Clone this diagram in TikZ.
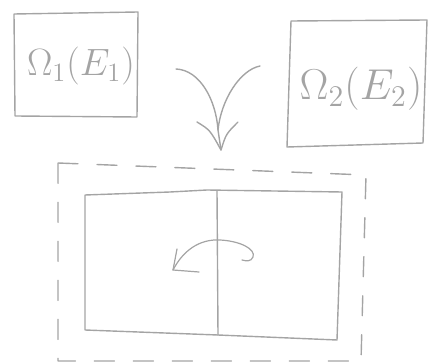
\documentclass[tikz,border=0pt]{standalone}
\begin{document}
\begin{tikzpicture}[x=1pt,y=-1pt,line cap=round,line join=round]
\definecolor{pen}{HTML}{A4A4A4}
\tikzset{
  sketch/.style={draw=pen,line width=1.4pt},
  dashedbox/.style={draw=pen,line width=1.4pt,dash pattern=on 20pt off 19pt},
  bigtext/.style={text=pen,inner sep=0pt,font=\LARGE},
}
\useasboundingbox (0,0) rectangle (436,363);
% box 1
\draw[sketch] (14,14) -- (138,12) -- (137,117) -- (15,116) -- cycle;
\node[bigtext,scale=2.2] (t1) at (81,66) {$\Omega_1(E_1)$};
% box 2
\draw[sketch] (291,21) -- (427,20) -- (423,143) -- (287,147) -- cycle;
\node[bigtext,scale=2.5] (t2) at (361,89) {$\Omega_2(E_2)$};
% merging arrow
\coordinate (a1) at (176,69);
\coordinate (a2) at (260,66);
\coordinate (am) at (218,130);
\coordinate (tip) at (221,150);
\draw[sketch] (a1) .. controls (200,70) and (216,100) .. (am);
\draw[sketch] (a2) .. controls (240,70) and (221,100) .. (am) -- (tip);
\draw[sketch] (197,122) .. controls (210,130) .. (tip) .. controls (226,134) .. (238,122);
% dashed combined box
\draw[dashedbox] (58,163) -- (366,175) -- (361,361) -- (58,361) -- cycle;
% inner rectangle
\draw[sketch] (85,195) -- (170,192) -- (207,190) -- (342,192) -- (337,340) -- (218,335) -- (85,330) -- cycle;
\draw[sketch] (217,191) -- (218,335);
% rotation arrow
\draw[sketch,line width=1.2pt] (173,270) .. controls (185,247) and (203,239) .. (220,240)
  .. controls (240,241) and (256,249) .. (253,257) .. controls (251,262) and (246,261) .. (242,260);
\draw[sketch,line width=1.2pt] (177,249) -- (173,270) -- (199,272);
\end{tikzpicture}
\end{document}
